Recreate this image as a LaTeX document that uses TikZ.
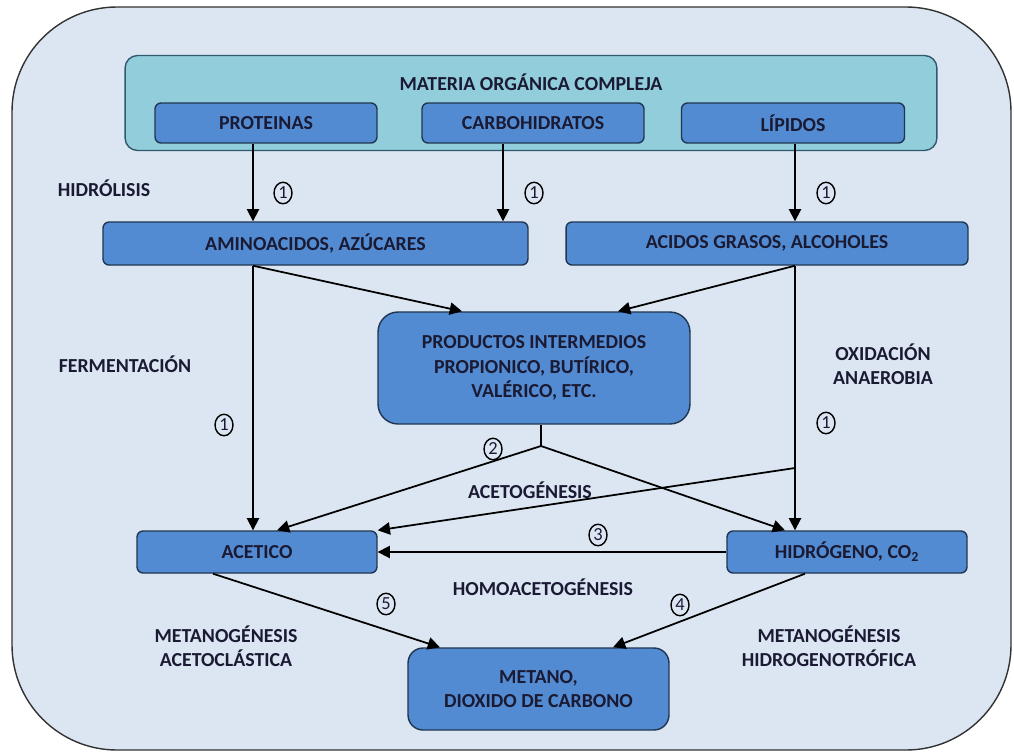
\documentclass[tikz,border=0pt]{standalone}
\usepackage{fontspec}
\setmainfont{Carlito}
\usepackage{tikz}
\usetikzlibrary{arrows.meta,shapes.geometric}

\definecolor{fondo}{HTML}{DCE6F2}
\definecolor{turquesa}{HTML}{92CDDC}
\definecolor{borde}{HTML}{31596E}
\definecolor{caja}{HTML}{538BD3}
\definecolor{bordecaja}{HTML}{1F3550}
\definecolor{texto}{HTML}{1A1A33}

\begin{document}
\begin{tikzpicture}[x=0.02cm,y=-0.02cm,>={Triangle[length=7pt,width=7pt]},
  every node/.style={font=\fontsize{11.3}{13.8}\selectfont\bfseries,text=texto},
  box/.style={draw=bordecaja,fill=caja,line width=0.8pt,rounded corners=0.12cm,
    align=center,inner sep=0pt},
  etapa/.style={align=center},
  num/.style={ellipse,draw=black,line width=0.8pt,inner sep=0pt,minimum width=0.36cm,
    minimum height=0.43cm,font=\fontsize{10.5}{10.5}\selectfont},
  arr/.style={->,line width=1pt},
  lin/.style={line width=1pt}]
  \useasboundingbox (0,0) rectangle (1014,754);
  % fondo general
  \draw[fill=fondo,draw=black!80,line width=0.8pt,rounded corners=2.1cm]
    (12,7) rectangle (1011,750);
  % materia organica
  \node[draw=borde,fill=turquesa,line width=0.8pt,rounded corners=0.25cm,
    minimum width=16.24cm,minimum height=1.9cm] (mat) at (531,103) {};
  \node (titulo) at (531,82) {MATERIA ORGÁNICA COMPLEJA};
  \node[box,minimum width=4.44cm,minimum height=0.8cm] (prot) at (266,123) {PROTEINAS};
  \node[box,minimum width=4.44cm,minimum height=0.8cm] (carb) at (533,123) {CARBOHIDRATOS};
  \node[box,minimum width=4.46cm,minimum height=0.8cm] (lip) at (793,123) {LÍPIDOS};
  % productos de la hidrolisis
  \node[box,minimum width=8.5cm,minimum height=0.86cm] (amino) at (315.5,243.5) {AMINOACIDOS, AZÚCARES};
  \node[box,minimum width=8.04cm,minimum height=0.86cm] (acidos) at (767,243.5) {ACIDOS GRASOS, ALCOHOLES};
  \node[box,rounded corners=0.4cm,minimum width=6.24cm,minimum height=2.24cm] (prod) at (534,368)
    {PRODUCTOS INTERMEDIOS\\PROPIONICO, BUTÍRICO,\\VALÉRICO, ETC.};
  \node[box,minimum width=4.8cm,minimum height=0.84cm] (acet) at (257,552) {ACETICO};
  \node[box,minimum width=4.8cm,minimum height=0.84cm] (hidro) at (847,552) {HIDRÓGENO, CO\textsubscript{2}};
  \node[box,rounded corners=0.3cm,minimum width=5.22cm,minimum height=1.64cm] (metano) at (538.5,689)
    {METANO,\\DIOXIDO DE CARBONO};

  % puntos de union
  \coordinate (xl) at (253,0);
  \coordinate (xc) at (503,0);
  \coordinate (xr) at (795,0);
  \coordinate (pj) at (541,446);
  \coordinate (rj) at (795,468);

  % hidrolisis
  \draw[arr] (prot.south -| xl) -- (amino.north -| xl);
  \draw[arr] (carb.south -| xc) -- (amino.north -| xc);
  \draw[arr] (lip.south -| xr) -- (acidos.north -| xr);
  % fermentacion y oxidacion
  \draw[arr] (amino.south -| xl) -- ([xshift=-1.44cm]prod.north);
  \draw[arr] (acidos.south -| xr) -- ([xshift=1.68cm]prod.north);
  \draw[arr] (amino.south -| xl) -- (acet.north -| xl);
  \draw[arr] (acidos.south -| xr) -- (hidro.north -| xr);
  % acetogenesis
  \draw[lin] (prod.south -| pj) -- (pj);
  \draw[arr] (pj) -- ([xshift=0.4cm]acet.north);
  \draw[arr] (pj) -- ([xshift=-1.24cm]hidro.north);
  \draw[arr] (rj) -- (acet.north east);
  % homoacetogenesis
  \draw[arr] (hidro.west) -- (acet.east);
  % metanogenesis
  \draw[arr] ([xshift=-0.88cm]acet.south) -- ([xshift=-1.97cm]metano.north);
  \draw[arr] ([xshift=-0.84cm]hidro.south) -- ([xshift=1.49cm]metano.north);

  % etapas
  \node[etapa] (hidrolisis) at (104,188) {HIDRÓLISIS};
  \node[etapa] (ferment) at (125,364) {FERMENTACIÓN};
  \node[etapa] (oxid) at (883,364) {OXIDACIÓN\\ANAEROBIA};
  \node[etapa] (acetog) at (530,490) {ACETOGÉNESIS};
  \node[etapa] (homo) at (543,587) {HOMOACETOGÉNESIS};
  \node[etapa] (metacet) at (226,646) {METANOGÉNESIS\\ACETOCLÁSTICA};
  \node[etapa] (methid) at (829,646) {METANOGÉNESIS\\HIDROGENOTRÓFICA};

  % numeros
  \node[num] (n1a) at (283,193) {1};
  \node[num] (n1b) at (534,193) {1};
  \node[num] (n1c) at (826,193) {1};
  \node[num] (n1d) at (224,425) {1};
  \node[num] (n1e) at (826,423) {1};
  \node[num] (n2) at (493,449) {2};
  \node[num] (n3) at (598,535) {3};
  \node[num] (n4) at (680,605) {4};
  \node[num] (n5) at (386,604) {5};
\end{tikzpicture}
\end{document}
